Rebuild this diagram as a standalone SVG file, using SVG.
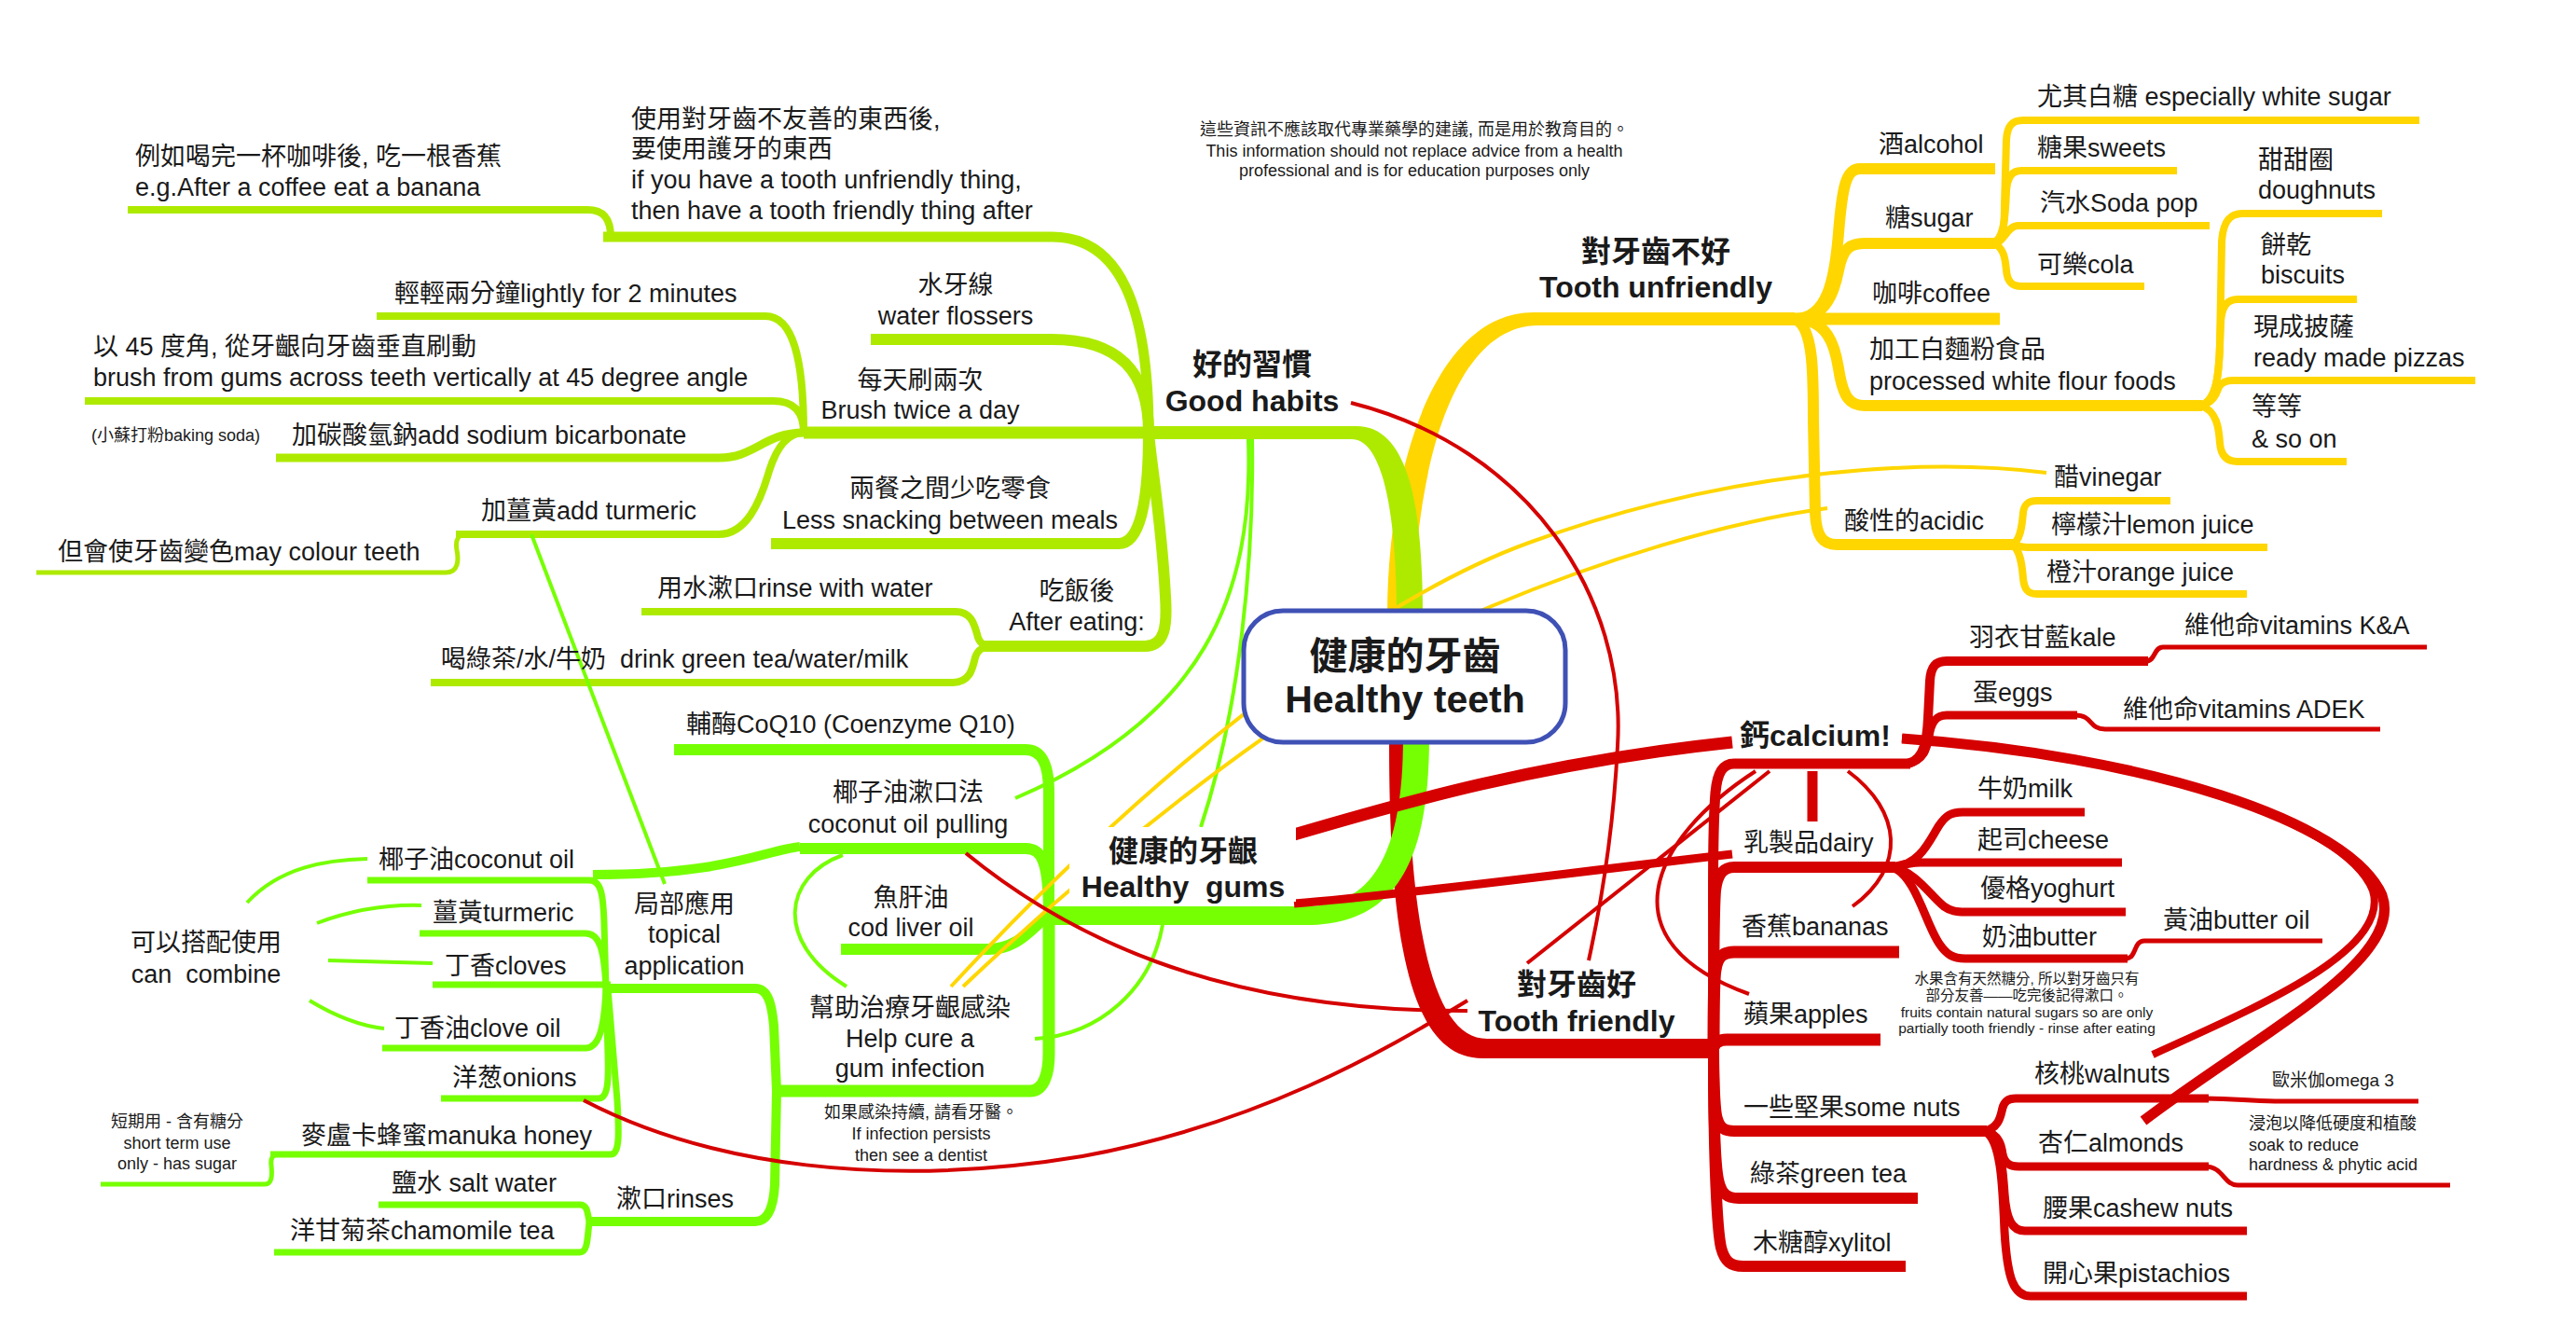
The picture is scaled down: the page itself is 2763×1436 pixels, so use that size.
<svg xmlns="http://www.w3.org/2000/svg" width="2763" height="1436" viewBox="0 0 2763 1436">
<style>
.c{fill:none;stroke-linecap:butt;stroke-linejoin:round}
.gh{stroke:#aeea00}
.hg{stroke:#76ff03}
.tu{stroke:#ffd600}
.tf{stroke:#d50000}
.w3{stroke-width:4}
.w5{stroke-width:5}
.w7{stroke-width:7}
.w8{stroke-width:8}
.w9{stroke-width:9}
.w10{stroke-width:10}
.w11{stroke-width:11}
.w12{stroke-width:12}
.w13{stroke-width:13}
text{font-family:"Liberation Sans","Noto Sans CJK TC",sans-serif;fill:#1a1a1a;font-size:27px}
.m{text-anchor:middle}
.b{font-weight:bold;font-size:32px}
.s{font-size:18px}
.xs{font-size:15.5px}
</style>
<rect width="2763" height="1436" fill="#ffffff"/>
<g id="connectors">
<!-- main branches -->
<path d="M1488 660 C1488 500 1540 335 1645 335 H1925 L1925 349 H1650 C1560 349 1518 500 1516 660 Z" fill="#ffd600"/>
<path d="M1232 457 H1455 C1510 457 1526 540 1526 660 L1498 660 C1498 560 1485 471 1450 471 H1232 Z" fill="#aeea00"/>
<path d="M1490 796 C1490 1000 1510 1135 1590 1135 H1840 L1840 1114 H1595 C1538 1114 1512 1000 1510 796 Z" fill="#d50000"/>
<path d="M1533 790 C1533 920 1500 992 1400 992 H1125 L1125 972 H1400 C1470 972 1505 920 1505 790 Z" fill="#76ff03"/>
<!-- good habits subtree -->
<path class="c gh w11" d="M647 254 H1128 C1201 254 1232 328 1232 464"/>
<path class="c gh w8" d="M137 225 H630 C648 225 655 235 655 254"/>
<path class="c gh w12" d="M934 364 H1128 C1201 364 1232 399 1232 464"/>
<path class="c gh w13" d="M862 464 H1240"/>
<path class="c gh w12" d="M827 583 H1200 C1222 583 1232 541 1232 464"/>
<path class="c gh w12" d="M1051 693 H1228 C1250 693 1252 670 1250 640 C1246 560 1235 500 1232 464"/>
<path class="c gh w8" d="M404 339 H821 C850 339 862 383 862 464"/>
<path class="c gh w8" d="M91 430 H829 C852 430 862 442 862 464"/>
<path class="c gh w9" d="M296 491 H771 C810 491 820 464 862 464"/>
<path class="c gh w8" d="M489 573 H771 C800 573 815 540 825 505 C833 480 845 464 862 464"/>
<path class="c gh w5" d="M39 614 H478 C492 614 492 600 490 590 C488 578 492 573 500 573"/>
<path class="c gh w8" d="M688 656 H1025 C1042 656 1045 670 1048 680 C1050 690 1055 693 1065 693"/>
<path class="c gh w8" d="M462 732 H1022 C1040 732 1043 718 1046 705 C1049 696 1055 693 1065 693"/>
<!-- healthy gums subtree -->
<path class="c hg w12" d="M723 804 H1100 C1118 804 1125 820 1125 850 L1125 982"/>
<path class="c hg w12" d="M858 910 H1100 C1118 910 1125 925 1125 982"/>
<path class="c hg w12" d="M902 1018 H1060 C1095 1018 1110 990 1125 982"/>
<path class="c hg w13" d="M833 1170 H1105 C1120 1170 1125 1150 1125 1130 L1125 982"/>
<path class="c hg w10" d="M647 1060 H810 C825 1060 828 1080 830 1100 L833 1170"/>
<path class="c hg w10" d="M630 1310 H810 C825 1310 830 1290 831 1270 L833 1170"/>
<path class="c hg w7" d="M394 944 H632 C645 944 647 960 648 990 L650 1060"/>
<path class="c hg w7" d="M450 1001 H628 C642 1001 648 1015 650 1060"/>
<path class="c hg w7" d="M464 1056 H655"/>
<path class="c hg w7" d="M410 1124 H628 C642 1124 648 1105 650 1060"/>
<path class="c hg w7" d="M473 1178 H642 C652 1178 653 1160 652 1130 L650 1060"/>
<path class="c hg w7" d="M290 1238 H655 C665 1238 664 1215 662 1180 L652 1060"/>
<path class="c hg w5" d="M108 1270 H284 C292 1270 292 1260 291 1250 C290 1242 292 1238 300 1238"/>
<path class="c hg w7" d="M406 1292 H622 C630 1292 630 1300 632 1310"/>
<path class="c hg w7" d="M294 1343 H622 C630 1343 630 1330 632 1310"/>
<path class="c hg w10" d="M858 908 C820 912 780 938 636 938"/>
<!-- tooth unfriendly subtree -->
<path class="c tu w12" d="M1925 342 C1960 342 1968 300 1972 250 C1976 200 1980 181 1995 181 H2140"/>
<path class="c tu w12" d="M1925 342 C1960 342 1968 310 1972 290 C1977 265 1985 261 2000 261 H2140"/>
<path class="c tu w13" d="M1920 342 H2145"/>
<path class="c tu w12" d="M1925 342 C1960 342 1968 370 1972 395 C1977 428 1985 435 2000 435 H2362"/>
<path class="c tu w12" d="M1925 342 C1945 350 1945 400 1945 450 L1947 550 C1948 575 1955 584 1970 584 H2160"/>
<path class="c tu w8" d="M2138 261 C2150 255 2150 240 2150 220 L2152 150 C2153 135 2158 129 2170 129 H2595"/>
<path class="c tu w8" d="M2138 261 C2150 255 2151 230 2152 205 C2153 190 2158 183 2168 183 H2335"/>
<path class="c tu w8" d="M2138 261 C2150 261 2152 242 2165 242 H2370"/>
<path class="c tu w8" d="M2138 261 C2150 265 2151 280 2152 290 C2153 302 2158 307 2168 307 H2300"/>
<path class="c tu w8" d="M2360 435 C2378 430 2380 400 2381 370 L2383 260 C2384 240 2390 229 2405 229 H2555"/>
<path class="c tu w8" d="M2360 435 C2378 430 2380 400 2381 370 L2382 345 C2383 330 2388 321 2400 321 H2528"/>
<path class="c tu w8" d="M2360 435 C2375 432 2378 420 2380 415 C2383 410 2388 408 2395 408 H2655"/>
<path class="c tu w8" d="M2360 435 C2378 440 2380 460 2381 475 C2382 488 2388 495 2400 495 H2517"/>
<path class="c tu w8" d="M2158 584 C2168 580 2169 560 2170 550 C2171 541 2175 537 2185 537 H2328"/>
<path class="c tu w8" d="M2158 584 C2165 586 2168 587 2175 587 H2432"/>
<path class="c tu w8" d="M2158 584 C2168 590 2169 610 2170 620 C2171 632 2175 637 2185 637 H2410"/>
<!-- tooth friendly subtree -->
<path class="c tf w11" d="M1838 1125 C1838 1000 1836 900 1840 850 C1842 828 1848 819 1860 819 H2049"/>
<path class="c tf w12" d="M1838 1125 C1838 1050 1838 980 1840 955 C1842 938 1848 930 1860 930 H2033"/>
<path class="c tf w13" d="M1838 1125 C1838 1080 1838 1050 1840 1040 C1842 1026 1848 1021 1860 1021 H2037"/>
<path class="c tf w13" d="M1836 1125 C1838 1120 1842 1115 1852 1115 H2017"/>
<path class="c tf w12" d="M1838 1125 C1838 1170 1840 1195 1842 1200 C1845 1210 1850 1213 1860 1213 H2131"/>
<path class="c tf w12" d="M1838 1125 C1838 1200 1840 1250 1843 1265 C1846 1280 1852 1285 1865 1285 H2057"/>
<path class="c tf w12" d="M1838 1125 C1838 1250 1842 1320 1846 1338 C1850 1353 1856 1358 1870 1358 H2044"/>
<path class="c tf w10" d="M2046 819 C2065 815 2067 790 2068 770 L2070 730 C2071 715 2076 709 2088 709 H2304"/>
<path class="c tf w9" d="M2046 819 C2065 815 2067 800 2069 790 C2071 775 2076 767 2088 767 H2228"/>
<path class="c tf w5" d="M2302 709 C2312 709 2310 694 2320 694 H2603"/>
<path class="c tf w5" d="M2226 767 C2245 767 2240 782 2258 782 H2553"/>
<path class="c tf w9" d="M2030 930 C2060 928 2070 900 2080 885 C2087 875 2092 871 2105 871 H2236"/>
<path class="c tf w9" d="M2030 930 C2045 926 2050 925 2060 925 H2276"/>
<path class="c tf w9" d="M2030 930 C2055 935 2070 960 2085 972 C2092 977 2098 978 2108 978 H2280"/>
<path class="c tf w9" d="M2030 930 C2055 940 2065 990 2080 1012 C2088 1024 2095 1028 2108 1028 H2282"/>
<path class="c tf w5" d="M2280 1028 C2292 1028 2288 1009 2300 1009 H2491"/>
<path class="c tf w9" d="M2128 1213 C2145 1210 2146 1195 2148 1188 C2150 1181 2154 1178 2162 1178 H2369"/>
<path class="c tf w5" d="M2365 1178 C2400 1178 2410 1181 2440 1181 H2594"/>
<path class="c tf w9" d="M2128 1213 C2145 1216 2147 1230 2148 1238 C2150 1247 2155 1251 2165 1251 H2369"/>
<path class="c tf w5" d="M2365 1251 C2385 1251 2385 1271 2400 1271 H2628"/>
<path class="c tf w9" d="M2128 1213 C2146 1218 2148 1250 2150 1280 C2152 1308 2158 1320 2172 1320 H2410"/>
<path class="c tf w9" d="M2128 1213 C2146 1220 2148 1270 2150 1320 C2153 1372 2160 1390 2178 1390 H2410"/>
<!-- relationship lines -->
<path class="c hg w3" d="M1343 471 C1345 600 1330 760 1288 887"/>
<path class="c hg w3" d="M1339 471 C1345 640 1290 770 1089 856"/>
<path class="c hg w3" d="M1247 992 C1235 1060 1180 1110 1110 1114"/>
<path class="c hg w3" d="M904 917 C840 940 830 1010 908 1058"/>
<path class="c hg w3" d="M570 573 L713 948"/>
<path class="c hg w3" d="M265 968 C300 930 350 922 394 921"/>
<path class="c hg w3" d="M340 990 C380 975 420 970 452 971"/>
<path class="c hg w3" d="M352 1030 L464 1033"/>
<path class="c hg w3" d="M332 1073 C360 1090 385 1100 412 1103"/>
<path class="c tu w3" d="M2195 507 C2060 490 1850 505 1640 582 C1480 640 1250 810 1020 1058"/>
<path class="c tu w3" d="M1960 545 C1850 560 1720 600 1600 650 C1420 725 1200 900 1033 1058"/>
<path class="c tf w3" d="M1449 432 C1640 480 1745 640 1735 800 C1730 900 1715 980 1704 1030"/>
<path class="c tf w3" d="M1036 915 C1140 1000 1300 1085 1574 1084"/>
<path class="c tf w3" d="M626 1180 C760 1250 950 1275 1161 1240 C1350 1205 1480 1130 1574 1073"/>
<path class="c tf w3" d="M1898 827 L1638 1033"/>
<path class="c tf w3" d="M1883 827 C1770 900 1720 1010 1876 1066"/>
<path class="c tf w3" d="M1982 827 C2040 870 2045 930 1987 972"/>
<path class="c tf w11" d="M1944 827 L1944 881"/>
<path class="c tf w13" d="M1388 895 C1500 862 1650 818 1858 796"/>
<path class="c tf w9" d="M1388 969 C1500 960 1650 940 1858 916"/>
<path class="c tf w11" d="M2040 792 C2300 810 2520 880 2555 960 C2580 1030 2420 1110 2299 1202"/>
<path class="c tf w8" d="M2040 792 C2300 810 2515 880 2545 955 C2565 1020 2420 1080 2309 1131"/>
</g>
<g id="root">
<rect x="1334" y="655" width="345" height="141" rx="42" fill="#ffffff" stroke="#3f51b5" stroke-width="5"/>
<text class="m" style="font-weight:bold;font-size:41px"><tspan x="1507" y="718">健康的牙齒</tspan><tspan x="1507" y="764">Healthy teeth</tspan></text>
</g>
<g id="disclaimer"><text class="m s"><tspan x="1517" y="145">這些資訊不應該取代專業藥學的建議, 而是用於教育目的。</tspan><tspan x="1517" y="168">This information should not replace advice from a health</tspan><tspan x="1517" y="189">professional and is for education purposes only</tspan></text></g>
<g id="good-habits"><text class="m b"><tspan x="1343" y="402">好的習慣</tspan><tspan x="1343" y="441">Good habits</tspan></text></g>
<g id="tooth-unfriendly-thing"><text><tspan x="677" y="137">使用對牙齒不友善的東西後,</tspan><tspan x="677" y="169">要使用護牙的東西</tspan><tspan x="677" y="202">if you have a tooth unfriendly thing,</tspan><tspan x="677" y="235">then have a tooth friendly thing after</tspan></text></g>
<g id="coffee-banana"><text><tspan x="145" y="177">例如喝完一杯咖啡後, 吃一根香蕉</tspan><tspan x="145" y="210">e.g.After a coffee eat a banana</tspan></text></g>
<g id="water-flossers"><text class="m"><tspan x="1025" y="315">水牙線</tspan><tspan x="1025" y="348">water flossers</tspan></text></g>
<g id="lightly"><text x="423" y="324">輕輕兩分鐘lightly for 2 minutes</text></g>
<g id="angle"><text><tspan x="100" y="381">以 45 度角, 從牙齦向牙齒垂直刷動</tspan><tspan x="100" y="414">brush from gums across teeth vertically at 45 degree angle</tspan></text></g>
<g id="brush-twice"><text class="m"><tspan x="987" y="417">每天刷兩次</tspan><tspan x="987" y="449">Brush twice a day</tspan></text></g>
<g id="baking-soda"><text class="s" x="98" y="473">(小蘇打粉baking soda)</text></g>
<g id="bicarbonate"><text x="313" y="476">加碳酸氫鈉add sodium bicarbonate</text></g>
<g id="add-turmeric"><text x="516" y="557">加薑黃add turmeric</text></g>
<g id="colour-teeth"><text x="62" y="601">但會使牙齒變色may colour teeth</text></g>
<g id="less-snacking"><text class="m"><tspan x="1019" y="533">兩餐之間少吃零食</tspan><tspan x="1019" y="567">Less snacking between meals</tspan></text></g>
<g id="after-eating"><text class="m"><tspan x="1155" y="643">吃飯後</tspan><tspan x="1155" y="676">After eating:</tspan></text></g>
<g id="rinse-water"><text x="705" y="640">用水漱口rinse with water</text></g>
<g id="drink"><text x="473" y="716" xml:space="preserve">喝綠茶/水/牛奶  drink green tea/water/milk</text></g>
<g id="healthy-gums"><rect x="1147" y="887" width="243" height="80" fill="#ffffff"/><text class="m b" xml:space="preserve"><tspan x="1269" y="924">健康的牙齦</tspan><tspan x="1269" y="962">Healthy  gums</tspan></text></g>
<g id="coq10"><text x="736" y="786">輔酶CoQ10 (Coenzyme Q10)</text></g>
<g id="oil-pulling"><text class="m"><tspan x="974" y="859">椰子油漱口法</tspan><tspan x="974" y="893">coconut oil pulling</tspan></text></g>
<g id="coconut-oil"><text x="406" y="931">椰子油coconut oil</text></g>
<g id="cod-liver-oil"><text class="m"><tspan x="977" y="972">魚肝油</tspan><tspan x="977" y="1004">cod liver oil</tspan></text></g>
<g id="can-combine"><text class="m" xml:space="preserve"><tspan x="221" y="1020">可以搭配使用</tspan><tspan x="221" y="1054">can  combine</tspan></text></g>
<g id="turmeric"><text x="464" y="988">薑黃turmeric</text></g>
<g id="cloves"><text x="477" y="1045">丁香cloves</text></g>
<g id="topical"><text class="m"><tspan x="734" y="979">局部應用</tspan><tspan x="734" y="1011">topical</tspan><tspan x="734" y="1045">application</tspan></text></g>
<g id="clove-oil"><text x="423" y="1112">丁香油clove oil</text></g>
<g id="onions"><text x="485" y="1165">洋葱onions</text></g>
<g id="manuka"><text x="323" y="1227">麥盧卡蜂蜜manuka honey</text></g>
<g id="short-term"><text class="m s"><tspan x="190" y="1209">短期用 - 含有糖分</tspan><tspan x="190" y="1232">short term use</tspan><tspan x="190" y="1254">only - has sugar</tspan></text></g>
<g id="help-cure"><text class="m"><tspan x="976" y="1090">幫助治療牙齦感染</tspan><tspan x="976" y="1123">Help cure a</tspan><tspan x="976" y="1155">gum infection</tspan></text></g>
<g id="dentist"><text class="m s"><tspan x="988" y="1199">如果感染持續, 請看牙醫。</tspan><tspan x="988" y="1222">If infection persists</tspan><tspan x="988" y="1245">then see a dentist</tspan></text></g>
<g id="salt-water"><text x="420" y="1278">鹽水 salt water</text></g>
<g id="rinses"><text x="661" y="1295">漱口rinses</text></g>
<g id="chamomile"><text x="311" y="1329">洋甘菊茶chamomile tea</text></g>
<g id="tooth-unfriendly"><text class="m b"><tspan x="1776" y="281">對牙齒不好</tspan><tspan x="1776" y="319">Tooth unfriendly</tspan></text></g>
<g id="alcohol"><text x="2015" y="164">酒alcohol</text></g>
<g id="sugar"><text x="2022" y="243">糖sugar</text></g>
<g id="coffee"><text x="2008" y="324">咖啡coffee</text></g>
<g id="white-flour"><text><tspan x="2005" y="384">加工白麵粉食品</tspan><tspan x="2005" y="418">processed white flour foods</tspan></text></g>
<g id="white-sugar"><text x="2185" y="113">尤其白糖 especially white sugar</text></g>
<g id="sweets"><text x="2185" y="168">糖果sweets</text></g>
<g id="soda"><text x="2188" y="227">汽水Soda pop</text></g>
<g id="cola"><text x="2185" y="293">可樂cola</text></g>
<g id="doughnuts"><text><tspan x="2422" y="181">甜甜圈</tspan><tspan x="2422" y="213">doughnuts</tspan></text></g>
<g id="biscuits"><text><tspan x="2425" y="272">餅乾</tspan><tspan x="2425" y="304">biscuits</tspan></text></g>
<g id="pizzas"><text><tspan x="2417" y="360">現成披薩</tspan><tspan x="2417" y="393">ready made pizzas</tspan></text></g>
<g id="so-on"><text><tspan x="2415" y="445">等等</tspan><tspan x="2415" y="480">&amp; so on</tspan></text></g>
<g id="vinegar"><text x="2203" y="521">醋vinegar</text></g>
<g id="acidic"><text x="1978" y="568">酸性的acidic</text></g>
<g id="lemon"><text x="2200" y="572">檸檬汁lemon juice</text></g>
<g id="orange"><text x="2195" y="623">橙汁orange juice</text></g>
<g id="tooth-friendly"><text class="m b"><tspan x="1691" y="1067">對牙齒好</tspan><tspan x="1691" y="1106">Tooth friendly</tspan></text></g>
<g id="calcium"><text class="b" x="1866" y="800">鈣calcium!</text></g>
<g id="kale"><text x="2112" y="693">羽衣甘藍kale</text></g>
<g id="vit-ka"><text x="2343" y="680">維他命vitamins K&amp;A</text></g>
<g id="eggs"><text x="2116" y="752">蛋eggs</text></g>
<g id="vit-adek"><text x="2277" y="770">維他命vitamins ADEK</text></g>
<g id="dairy"><text x="1870" y="913">乳製品dairy</text></g>
<g id="milk"><text x="2121" y="855">牛奶milk</text></g>
<g id="cheese"><text x="2121" y="910">起司cheese</text></g>
<g id="yoghurt"><text x="2124" y="962">優格yoghurt</text></g>
<g id="butter"><text x="2126" y="1014">奶油butter</text></g>
<g id="butter-oil"><text x="2320" y="996">黃油butter oil</text></g>
<g id="bananas"><text x="1868" y="1003">香蕉bananas</text></g>
<g id="apples"><text x="1870" y="1097">蘋果apples</text></g>
<g id="fruit-note"><text class="m xs"><tspan x="2174" y="1055">水果含有天然糖分, 所以對牙齒只有</tspan><tspan x="2174" y="1073">部分友善——吃完後記得漱口。</tspan><tspan x="2174" y="1091">fruits contain natural sugars so are only</tspan><tspan x="2174" y="1108">partially tooth friendly - rinse after eating</tspan></text></g>
<g id="nuts"><text x="1870" y="1197">一些堅果some nuts</text></g>
<g id="walnuts"><text x="2182" y="1161">核桃walnuts</text></g>
<g id="omega"><text x="2437" y="1165" style="font-size:19px">歐米伽omega 3</text></g>
<g id="almonds"><text x="2186" y="1235">杏仁almonds</text></g>
<g id="soak"><text class="s"><tspan x="2412" y="1211">浸泡以降低硬度和植酸</tspan><tspan x="2412" y="1234">soak to reduce</tspan><tspan x="2412" y="1255">hardness &amp; phytic acid</tspan></text></g>
<g id="cashew"><text x="2191" y="1305">腰果cashew nuts</text></g>
<g id="pistachios"><text x="2191" y="1375">開心果pistachios</text></g>
<g id="green-tea"><text x="1877" y="1268">綠茶green tea</text></g>
<g id="xylitol"><text x="1880" y="1342">木糖醇xylitol</text></g>
</svg>
